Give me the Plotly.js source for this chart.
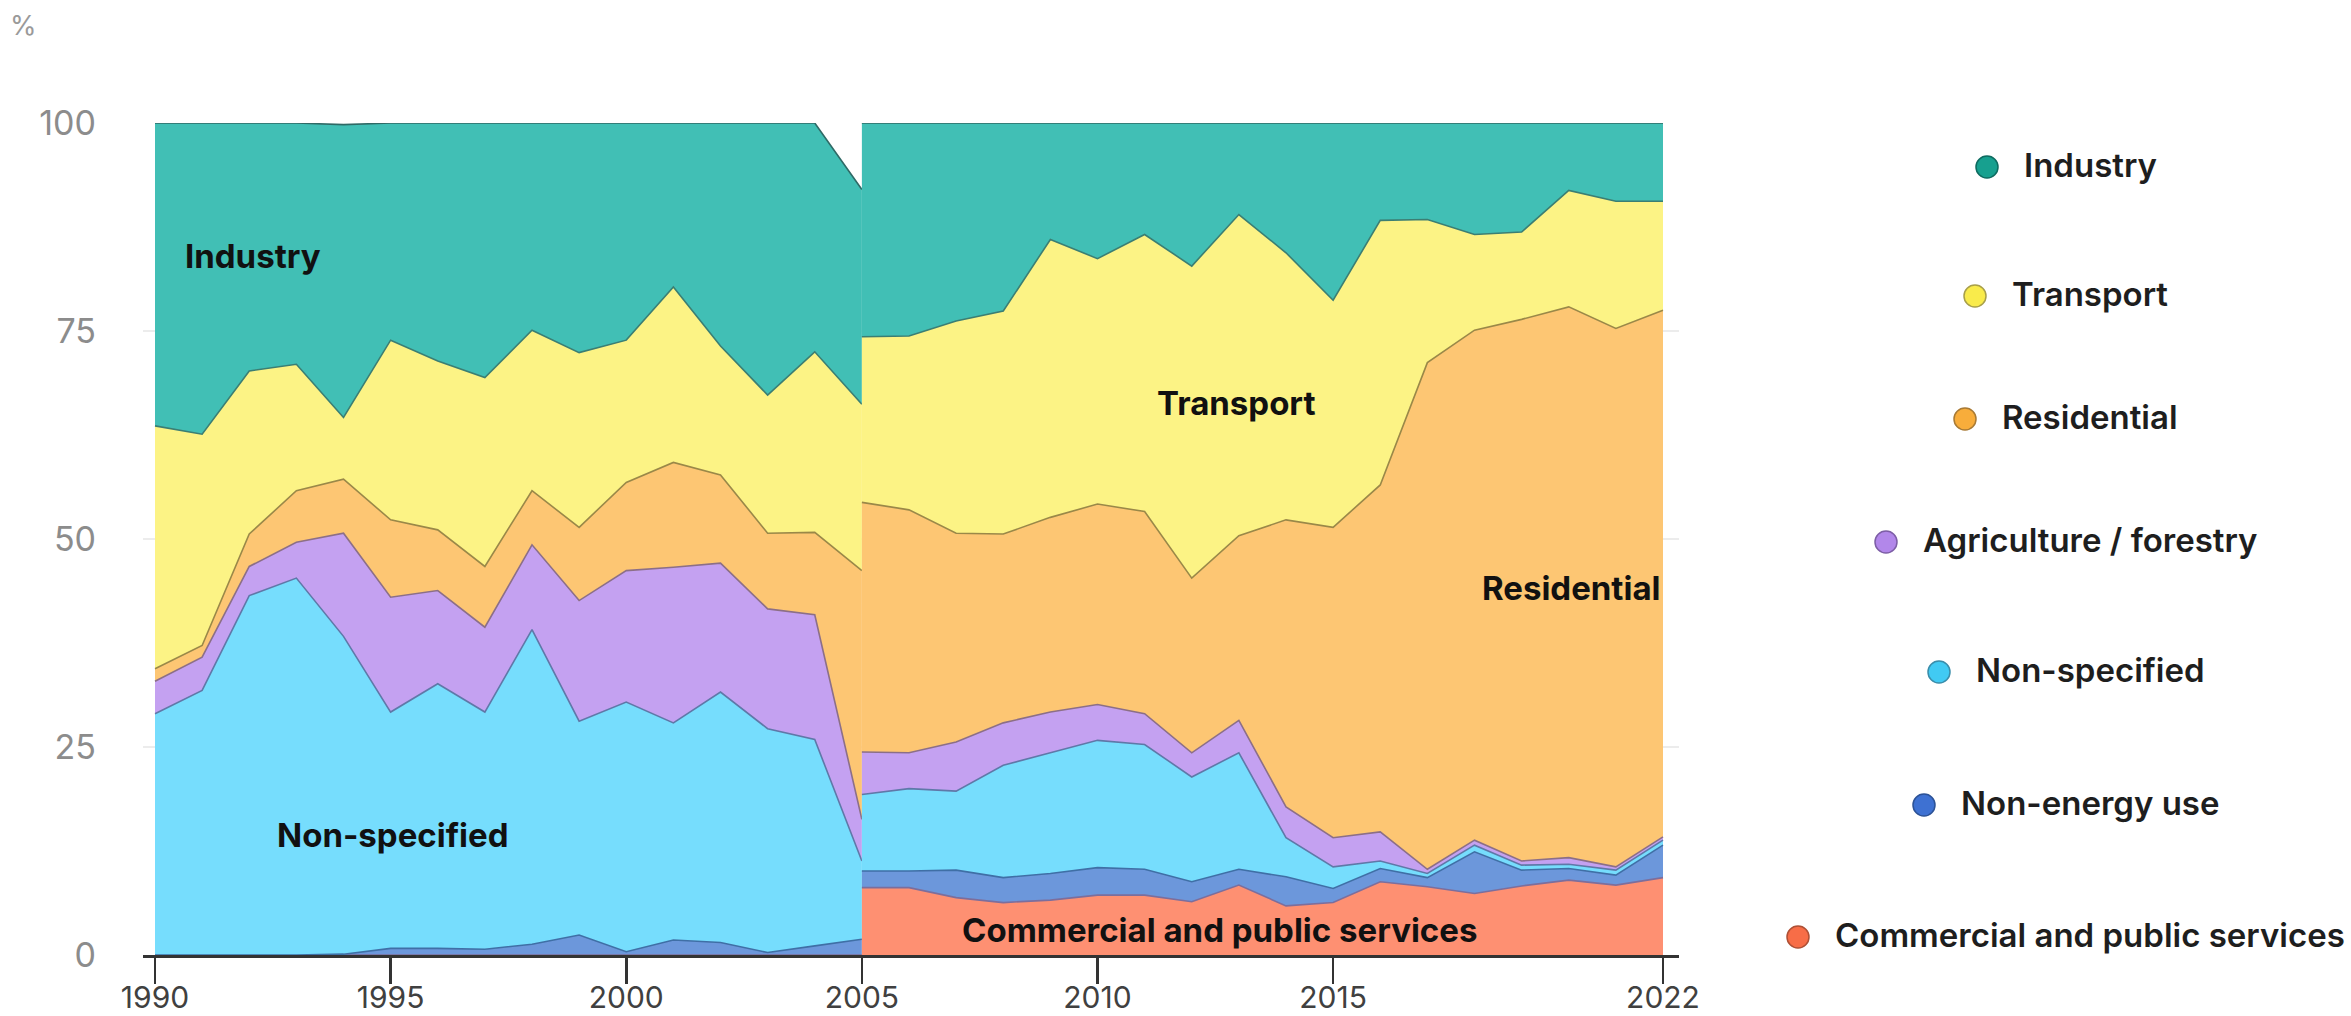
<!DOCTYPE html>
<html>
<head>
<meta charset="utf-8">
<script src="https://cdn.plot.ly/plotly-3.0.1.min.js"></script>
<style>
  html, body { margin: 0; padding: 0; background: #ffffff; }
  #chart { width: 2351px; height: 1016px; }
</style>
</head>
<body>
<div id="chart"></div>
<script>
// ---------------- DATA ----------------
const yearsPre  = [1990,1991,1992,1993,1994,1995,1996,1997,1998,1999,2000,2001,2002,2003,2004,2005];
const yearsPost = [2005,2006,2007,2008,2009,2010,2011,2012,2013,2014,2015,2016,2017,2018,2019,2020,2021,2022];

const sectorNames = ["Commercial and public services","Non-energy use","Non-specified","Agriculture / forestry","Residential","Transport","Industry"];

// shares (%) 1990-2005, first series
const commercialPre   = [0,0,0,0,0,0,0,0,0,0,0,0,0,0,0,0];
const nonEnergyPre    = [0,0,0,0,0.1,0.8,0.8,0.7,1.3,2.4,0.4,1.8,1.5,0.3,1.1,1.9];
const nonSpecifiedPre = [29.0,31.8,43.2,45.3,38.2,28.4,31.8,28.5,37.8,25.7,30.0,26.1,30.1,26.9,24.8,9.4];
const agriculturePre  = [3.9,4.0,3.5,4.3,12.4,13.8,11.2,10.2,10.2,14.5,15.8,18.7,15.5,14.4,15.0,5.0];
const residentialPre  = [1.5,1.4,3.9,6.2,6.5,9.3,7.3,7.3,6.5,8.8,10.6,12.6,10.6,9.1,9.9,29.9];
const transportPre    = [29.2,25.4,19.6,15.2,7.4,21.6,20.3,22.7,19.3,21.0,17.1,21.1,15.5,16.6,21.7,20.0];
const industryPre     = [36.4,37.4,29.8,29.0,35.2,26.1,28.6,30.6,24.9,27.6,26.1,19.7,26.8,32.7,27.5,25.8];

// shares (%) 2005-2022, second series
const commercialPost   = [8.1,8.1,6.9,6.3,6.6,7.2,7.2,6.4,8.4,5.9,6.3,8.8,8.2,7.4,8.3,9.0,8.4,9.3];
const nonEnergyPost    = [2.0,2.0,3.3,3.0,3.2,3.3,3.1,2.4,1.9,3.5,1.7,1.6,1.1,5.0,1.9,1.4,1.2,3.9];
const nonSpecifiedPost = [9.2,9.9,9.5,13.5,14.5,15.3,15.0,12.6,14.0,4.7,2.6,0.9,0.5,0.8,0.6,0.5,0.6,0.6];
const agriculturePost  = [5.1,4.3,5.9,5.1,4.9,4.3,3.7,2.9,3.9,3.7,3.5,3.5,0.5,0.6,0.5,0.8,0.4,0.4];
const residentialPost  = [30.0,29.2,25.1,22.7,23.4,24.1,24.3,21.0,22.2,34.5,37.3,41.7,60.9,61.3,65.1,66.2,64.7,63.3];
const transportPost    = [19.9,20.9,25.5,26.8,33.4,29.5,33.3,37.5,38.6,32.1,27.3,31.8,17.2,11.5,10.5,14.0,15.3,13.1];
const industryPost     = [25.7,25.6,23.8,22.6,14.0,16.3,13.4,17.2,11.0,15.6,21.3,11.7,11.6,13.4,13.1,8.1,9.4,9.4];

const xTickVals = [1990,1995,2000,2005,2010,2015,2022];
const yTickVals = [0,25,50,75,100];
const legendOrder = ["Industry","Transport","Residential","Agriculture / forestry","Non-specified","Non-energy use","Commercial and public services"];

// ---------------- STYLE ----------------
const fillColors = {
  "Commercial and public services": "#FE9072",
  "Non-energy use": "#6C97DB",
  "Non-specified": "#76DDFD",
  "Agriculture / forestry": "#C4A1F1",
  "Residential": "#FDC673",
  "Transport": "#FCF385",
  "Industry": "#41BFB5"
};
const lineColors = {
  "Commercial and public services": "#7C6E9C",
  "Non-energy use": "#3F6FA6",
  "Non-specified": "#5F78A8",
  "Agriculture / forestry": "#8C6F87",
  "Residential": "#9A8848",
  "Transport": "#3B7E73",
  "Industry": "#2F6A66"
};
const markerColors = {
  "Industry": ["#17A08F", "#0E6B60"],
  "Transport": ["#F9EB4B", "#A89F4A"],
  "Residential": ["#F8AD3B", "#A87A35"],
  "Agriculture / forestry": ["#B287EA", "#7D5EA6"],
  "Non-specified": ["#41CAF3", "#3A8DAA"],
  "Non-energy use": ["#3E71D2", "#2C5296"],
  "Commercial and public services": ["#F76D47", "#AE5035"]
};

const preSeries  = [commercialPre, nonEnergyPre, nonSpecifiedPre, agriculturePre, residentialPre, transportPre, industryPre];
const postSeries = [commercialPost, nonEnergyPost, nonSpecifiedPost, agriculturePost, residentialPost, transportPost, industryPost];

const traces = [];
function addGroup(xs, series, group) {
  series.forEach((vals, i) => {
    const name = sectorNames[i];
    traces.push({
      type: 'scatter', mode: 'lines', x: xs, y: vals, name: name,
      stackgroup: group,
      fillcolor: fillColors[name],
      line: { color: lineColors[name], width: 1.6, shape: 'linear' },
      hoverinfo: 'skip', showlegend: false
    });
  });
}
addGroup(yearsPre, preSeries, 'pre');
addGroup(yearsPost, postSeries, 'post');

// geometry
const W = 2351, H = 1016;
const mL = 143, mR = 672, mT = 123, mB = 61;
const plotW = W - mL - mR, plotH = H - mT - mB;
const legendYpx = [165, 294, 417, 540, 670, 803, 935];
const legendCenterPx = 2090;
const toPaperX = px => (px - mL) / plotW;
const toPaperY = py => (H - mB - py) / plotH;

const labelFont = { family: 'Inter, "Noto Sans", sans-serif', size: 33, color: '#111111', weight: 700 };
const annotations = [
  { x: 1990.6, y: 84, xref: 'x', yref: 'y', text: 'Industry', showarrow: false, xanchor: 'left', yanchor: 'middle', font: labelFont },
  { x: 1995.05, y: 14.4, xref: 'x', yref: 'y', text: 'Non-specified', showarrow: false, xanchor: 'center', yanchor: 'middle', font: labelFont },
  { x: 2012.96, y: 66.4, xref: 'x', yref: 'y', text: 'Transport', showarrow: false, xanchor: 'center', yanchor: 'middle', font: labelFont },
  { x: 2020.05, y: 44.1, xref: 'x', yref: 'y', text: 'Residential', showarrow: false, xanchor: 'center', yanchor: 'middle', font: labelFont },
  { x: 2012.58, y: 3.0, xref: 'x', yref: 'y', text: 'Commercial and public services', showarrow: false, xanchor: 'center', yanchor: 'middle', font: labelFont },
  { x: toPaperX(8), y: toPaperY(25), xref: 'paper', yref: 'paper', text: '%', showarrow: false, xanchor: 'left', yanchor: 'middle',
    font: { family: 'Inter, sans-serif', size: 27, color: '#9a9a9a' } }
];
const legendStart = annotations.length;
legendOrder.forEach((name, i) => {
  annotations.push({
    x: toPaperX(legendCenterPx), y: toPaperY(legendYpx[i]), xref: 'paper', yref: 'paper',
    text: name, showarrow: false, xanchor: 'center', yanchor: 'middle',
    font: { family: 'Inter, "Noto Sans", sans-serif', size: 33, color: '#1e1e1e', weight: 600 }
  });
});

const layout = {
  width: W, height: H,
  margin: { l: mL, r: mR, t: mT, b: mB, pad: 0 },
  paper_bgcolor: '#ffffff', plot_bgcolor: '#ffffff',
  showlegend: false,
  font: { family: 'Inter, sans-serif' },
  xaxis: {
    range: [1990 - 12 / 47.125, 2022 + 16 / 47.125],
    tickmode: 'array', tickvals: xTickVals, ticktext: xTickVals.map(String),
    ticks: 'outside', ticklen: 26, tickwidth: 2.5, tickcolor: '#333333',
    showline: true, linecolor: '#333333', linewidth: 3,
    showgrid: false, zeroline: false,
    ticklabelstandoff: -12,
    tickfont: { family: 'Inter, sans-serif', size: 30, color: '#404040' },
    fixedrange: true
  },
  yaxis: {
    range: [0, 100],
    tickmode: 'array', tickvals: yTickVals, ticktext: yTickVals.map(String),
    ticks: '', showline: false, zeroline: false,
    showgrid: true, gridcolor: '#ececec', gridwidth: 1.5,
    ticklabelstandoff: 46,
    tickfont: { family: 'Inter, sans-serif', size: 34, color: '#8c8c8c' },
    layer: 'below traces',
    fixedrange: true
  },
  annotations: annotations
};

Plotly.newPlot('chart', traces, layout, { staticPlot: true, displayModeBar: false }).then(gd => {
  const shapes = [];
  const groups = gd.querySelectorAll('.annotation');
  const chartRect = gd.getBoundingClientRect();
  legendOrder.forEach((name, i) => {
    const idx = legendStart + i;
    let grp = null;
    groups.forEach(g => { if (g.getAttribute('data-index') === String(idx)) grp = g; });
    let leftPx = legendCenterPx - 100;
    if (grp) {
      const t = grp.querySelector('.annotation-text') || grp;
      const r = t.getBoundingClientRect();
      leftPx = r.left - chartRect.left;
    }
    const cx = leftPx - 37;
    shapes.push({
      type: 'circle', xref: 'paper', yref: 'paper',
      xsizemode: 'pixel', ysizemode: 'pixel',
      xanchor: toPaperX(cx), yanchor: toPaperY(legendYpx[i] + 2),
      x0: -11, x1: 11, y0: -11, y1: 11,
      fillcolor: markerColors[name][0],
      line: { color: markerColors[name][1], width: 1.5 }
    });
  });
  return Plotly.relayout(gd, { shapes: shapes });
});
</script>
</body>
</html>
